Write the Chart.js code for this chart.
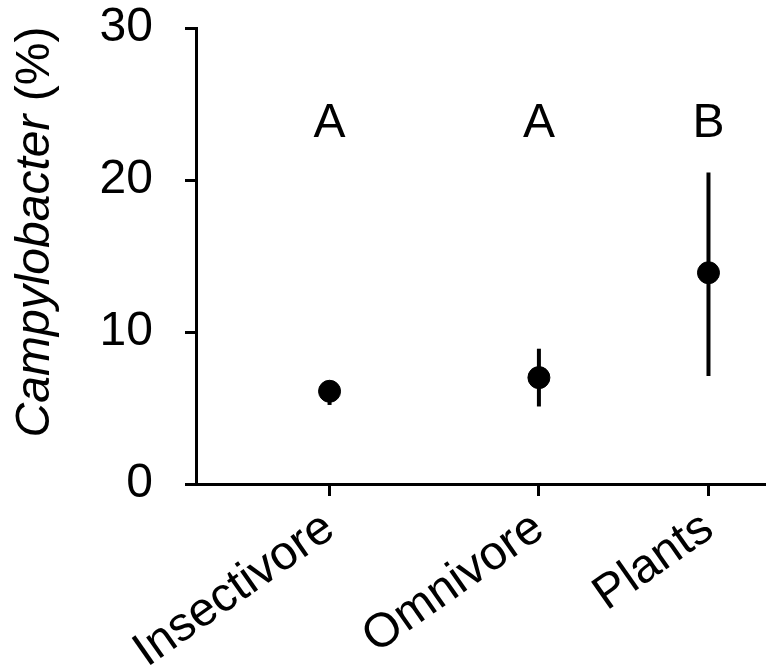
<!DOCTYPE html>
<html>
<head>
<meta charset="utf-8">
<title>Campylobacter by diet</title>
<script src="https://cdn.jsdelivr.net/npm/chart.js@4/dist/chart.umd.min.js"></script>
<style>
  html, body { margin: 0; padding: 0; background: #fff; }
  #wrap { width: 777px; height: 670px; position: relative; }
</style>
</head>
<body>
<div id="wrap"><canvas id="dietChart"></canvas></div>
<script>
const categories = ["Insectivore", "Omnivore", "Plants"];
const categoryPos = [1, 2, 2.81];
const means = [6.1, 7.0, 13.9];
const lowerBounds = [5.2, 5.1, 7.1];
const upperBounds = [6.8, 8.9, 20.5];
const groupLetters = ["A", "A", "B"];
const letterLevel = 22.8;
const yTicks = [0, 10, 20, 30];

const FONT = "'Liberation Sans', Arial, sans-serif";

document.addEventListener("DOMContentLoaded", function () {
  // vertical error bars behind the dots
  const errorBars = {
    id: "errorBars",
    beforeDatasetsDraw(chart) {
      const { ctx, scales } = chart;
      ctx.save();
      ctx.strokeStyle = "#000";
      ctx.lineWidth = 4;
      categoryPos.forEach((pos, i) => {
        const x = scales.x.getPixelForValue(pos);
        ctx.beginPath();
        ctx.moveTo(x, scales.y.getPixelForValue(lowerBounds[i]));
        ctx.lineTo(x, scales.y.getPixelForValue(upperBounds[i]));
        ctx.stroke();
      });
      ctx.restore();
    },
  };

  // significance letters above each group
  const letters = {
    id: "letters",
    afterDatasetsDraw(chart) {
      const { ctx, scales } = chart;
      ctx.save();
      ctx.fillStyle = "#000";
      ctx.font = "48px " + FONT;
      ctx.textAlign = "center";
      ctx.textBaseline = "alphabetic";
      groupLetters.forEach((letter, i) => {
        ctx.fillText(
          letter,
          scales.x.getPixelForValue(categoryPos[i]),
          scales.y.getPixelForValue(letterLevel)
        );
      });
      ctx.restore();
    },
  };

  // y title with italic genus name
  const yTitle = {
    id: "yTitle",
    afterDraw(chart) {
      const ctx = chart.ctx;
      const italic = "italic 48px " + FONT;
      const plain = "48px " + FONT;
      const part1 = "Campylobacter";
      const part2 = " (%)";
      ctx.save();
      ctx.font = italic;
      const w1 = ctx.measureText(part1).width;
      ctx.font = plain;
      const w2 = ctx.measureText(part2).width;
      ctx.translate(49, 232);
      ctx.rotate(-Math.PI / 2);
      ctx.fillStyle = "#000";
      ctx.textBaseline = "alphabetic";
      ctx.textAlign = "left";
      const start = -(w1 + w2) / 2;
      ctx.font = italic;
      ctx.fillText(part1, start, 0);
      ctx.font = plain;
      ctx.fillText(part2, start + w1, 0);
      ctx.restore();
    },
  };

  const ctx = document.getElementById("dietChart").getContext("2d");
  new Chart(ctx, {
    type: "scatter",
    data: {
      datasets: [
        {
          data: categoryPos.map((pos, i) => ({ x: pos, y: means[i] })),
          backgroundColor: "#000",
          borderColor: "#000",
          pointRadius: 11,
          pointHoverRadius: 11,
        },
      ],
    },
    options: {
      responsive: true,
      maintainAspectRatio: false,
      animation: false,
      layout: { padding: 0 },
      plugins: {
        legend: { display: false },
        tooltip: { enabled: false },
      },
      scales: {
        x: {
          type: "linear",
          min: 0.362,
          max: 3.08,
          afterBuildTicks: (scale) => {
            scale.ticks = categoryPos.map((v) => ({ value: v }));
          },
          afterFit: (scale) => {
            scale.height = 186;
          },
          border: { display: true, color: "#000", width: 3 },
          grid: {
            drawOnChartArea: false,
            drawTicks: true,
            tickLength: 12,
            tickWidth: 3,
            color: "#000",
          },
          ticks: {
            autoSkip: false,
            minRotation: 35,
            maxRotation: 35,
            padding: 4,
            color: "#000",
            font: { family: FONT, size: 48 },
            callback: (value, index) => categories[index],
          },
        },
        y: {
          min: 0,
          max: 30,
          afterBuildTicks: (scale) => {
            scale.ticks = yTicks.map((v) => ({ value: v }));
          },
          afterFit: (scale) => {
            scale.width = 196;
            // keep the top of the axis close to the canvas edge
            scale.paddingTop = 28;
          },
          border: { display: true, color: "#000", width: 3 },
          grid: {
            drawOnChartArea: false,
            drawTicks: true,
            tickLength: 11,
            tickWidth: 3,
            color: "#000",
          },
          ticks: {
            padding: 32,
            color: "#000",
            font: { family: FONT, size: 48 },
          },
        },
      },
    },
    plugins: [errorBars, letters, yTitle],
  });
});
</script>
</body>
</html>
